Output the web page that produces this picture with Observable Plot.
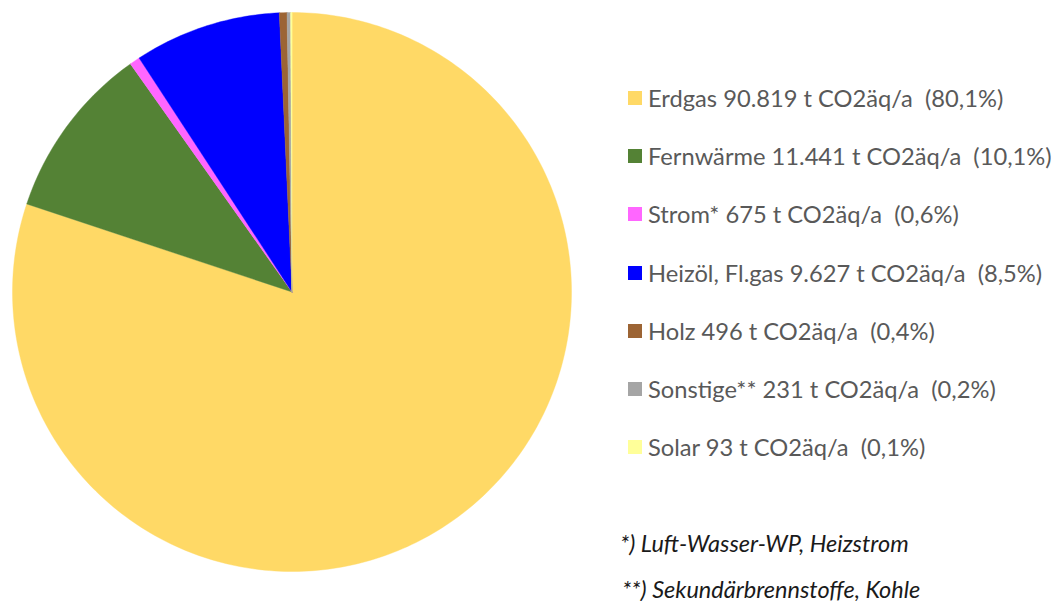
<!DOCTYPE html>
<html><head><meta charset="utf-8">
<script src="https://cdn.jsdelivr.net/npm/d3@7"></script>
<script src="https://cdn.jsdelivr.net/npm/@observablehq/plot@0.6"></script>
<style>
body{margin:0;background:#fff;width:1063px;height:601px;position:relative;overflow:hidden;font-family:Lato,"Open Sans",sans-serif}
#chart{position:absolute;left:0;top:0}
.item{position:absolute;left:628px;white-space:pre;color:#595959;font-size:23.7px;display:flex;align-items:center;height:30px;line-height:30px}
.sw{width:14px;height:14px;margin-right:6px;flex:none}
.note{position:absolute;left:620px;font-style:italic;color:#1a1a1a;font-size:23.5px;white-space:pre;line-height:28px}
</style></head><body>
<div id="chart"></div>
<script>
const categories = ["Erdgas","Fernwärme","Strom*","Heizöl, Fl.gas","Holz","Sonstige**","Solar"];
const values = [90819, 11441, 675, 9627, 496, 231, 93];
const valueLabels = ["90.819","11.441","675","9.627","496","231","93"];
const percents = ["80,1%","10,1%","0,6%","8,5%","0,4%","0,2%","0,1%"];
const colors = ["#FFD966","#548235","#FF66FF","#0000FF","#9C6434","#A5A5A5","#FFFF99"];
const footnotes = ["*) Luft-Wasser-WP, Heizstrom","**) Sekundärbrennstoffe, Kohle"];

const arcs = d3.pie().sort(null).value(d => d)(values);
const features = arcs.map((a, i) => {
  const n = Math.max(2, Math.ceil((a.endAngle - a.startAngle) * 180 / Math.PI));
  const ring = [[0, 0]];
  for (let k = 0; k <= n; k++) {
    const t = a.startAngle + (a.endAngle - a.startAngle) * k / n;
    ring.push([Math.sin(t), Math.cos(t)]);
  }
  ring.push([0, 0]);
  return {type: "Feature", properties: {name: categories[i]}, geometry: {type: "Polygon", coordinates: [ring]}};
});

const plot = Plot.plot({
  width: 583, height: 601,
  marginLeft: 12, marginRight: 12, marginTop: 12, marginBottom: 30,
  projection: {type: "reflect-y", domain: {type: "MultiPoint", coordinates: [[-1, -1], [1, 1]]}},
  color: {domain: categories, range: colors},
  marks: [Plot.geo(features, {fill: d => d.properties.name, stroke: d => d.properties.name, strokeWidth: 0.4})]
});
document.getElementById("chart").appendChild(plot);

categories.forEach((c, i) => {
  const div = document.createElement("div");
  div.className = "item";
  div.style.top = (98 + i * 58.2 - 15) + "px";
  const sw = document.createElement("span");
  sw.className = "sw";
  sw.style.background = colors[i];
  div.appendChild(sw);
  div.appendChild(document.createTextNode(`${c} ${valueLabels[i]} t CO2äq/a  (${percents[i]})`));
  document.body.appendChild(div);
});
footnotes.forEach((f, i) => {
  const div = document.createElement("div");
  div.className = "note";
  div.style.top = (543 + i * 46 - 14) + "px";
  if (i === 1) div.style.left = "622px";
  div.textContent = f;
  document.body.appendChild(div);
});
</script>
</body></html>
